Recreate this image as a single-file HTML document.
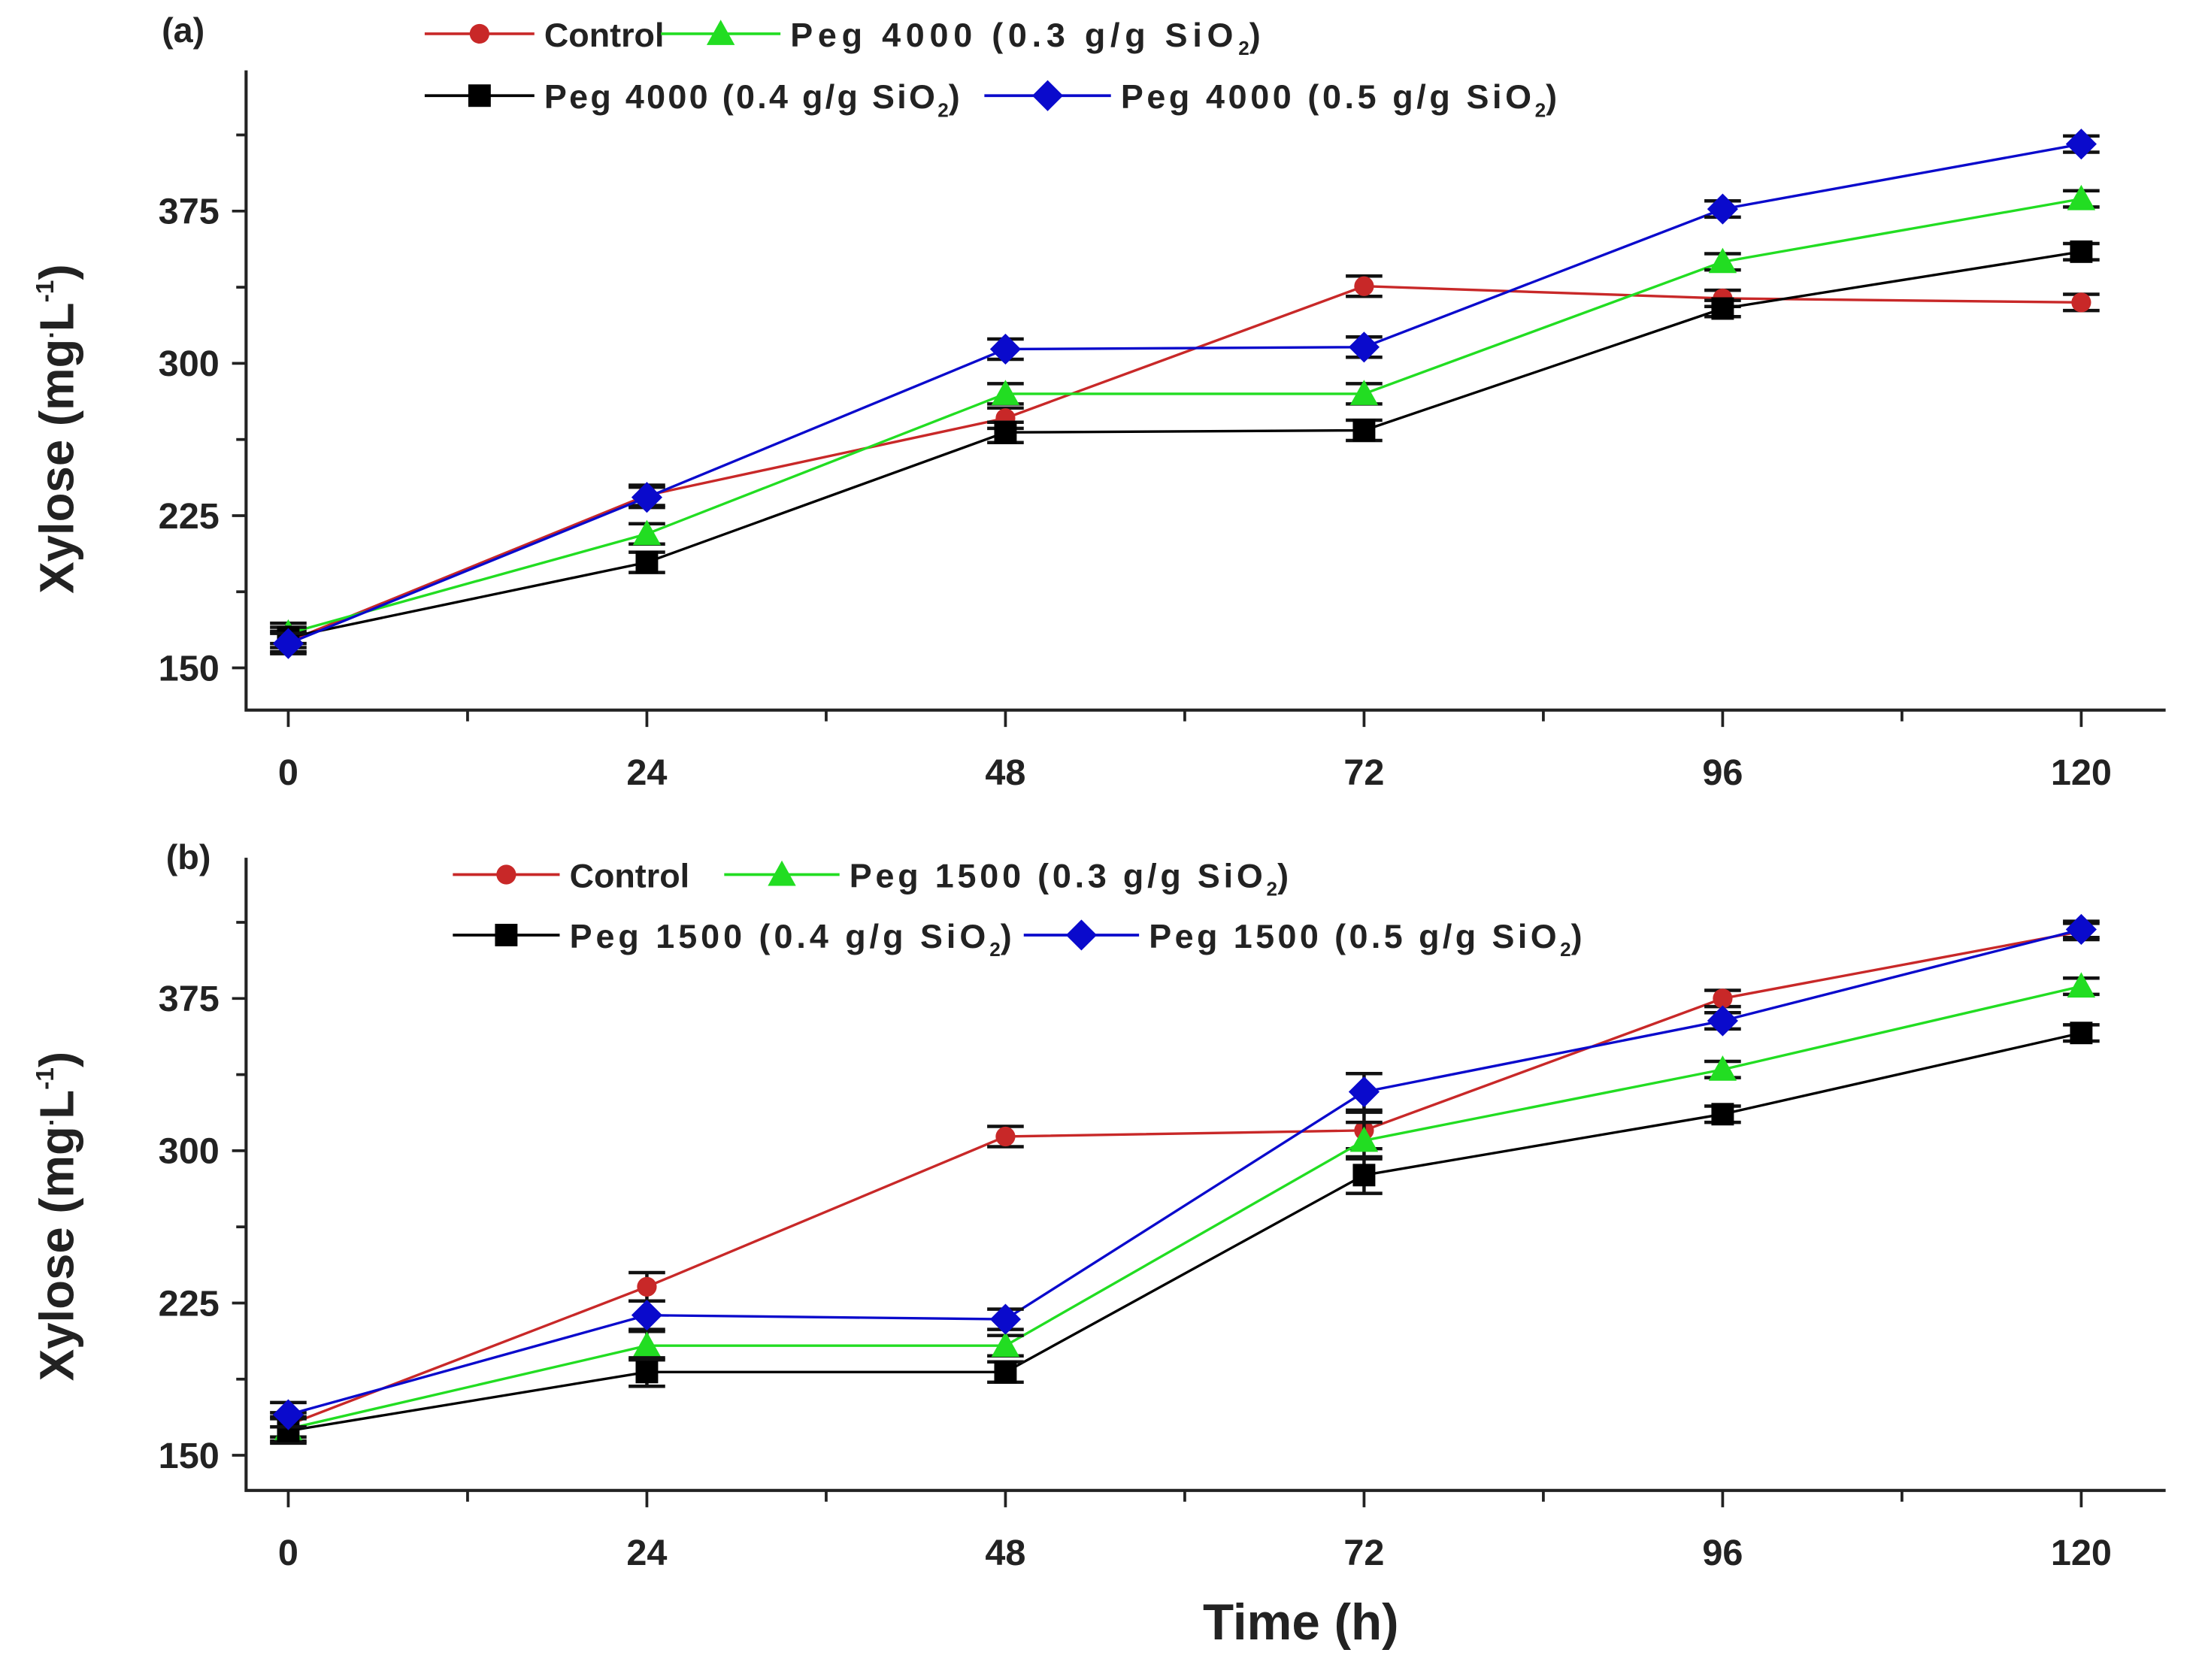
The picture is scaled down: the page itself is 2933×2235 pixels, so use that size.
<!DOCTYPE html>
<html><head><meta charset="utf-8">
<style>
html,body{margin:0;padding:0;background:#fff;}
svg{display:block;}
text{font-family:"Liberation Sans",sans-serif;font-weight:bold;fill:#222;}
</style></head>
<body>
<svg id="chart" width="2933" height="2235" viewBox="0 0 1568 1194.8" xmlns="http://www.w3.org/2000/svg">
</svg>
<script>
const hours = [0, 24, 48, 72, 96, 120];
const yTicks = [150, 225, 300, 375];
const xTickLabels = ["0", "24", "48", "72", "96", "120"];

const aControl = [163, 235, 273, 338, 332, 330];
const aPeg03 = [167, 216, 285, 285, 350, 381];
const aPeg04 = [165, 202, 266, 267, 327, 355];
const aPeg05 = [162, 234, 307, 308, 376, 408];
const aErr = [5, 5, 5, 5, 4, 4];

const bControl = [165, 233, 307, 310, 375, 408];
const bPeg03 = [163, 204, 204, 305, 340, 381];
const bPeg04 = [162, 191, 191, 288, 318, 358];
const bPeg05 = [170, 219, 217, 329, 364, 409];
const bErr = [6, 7, 5, 9, 4, 4];

const NS = "http://www.w3.org/2000/svg";
const svg = document.getElementById('chart');
function mk(tag, attrs, parent) {
  const e = document.createElementNS(NS, tag);
  for (const k in attrs) e.setAttribute(k, attrs[k]);
  (parent || svg).appendChild(e);
  return e;
}

const colors = { red: "#c82828", green: "#22dd22", black: "#000", blue: "#0a0acc" };

function drawMarker(g, kind, cx, cy, col) {
  let m;
  if (kind === 'circle') m = mk('circle', { cx: cx, cy: cy, r: 7, fill: col }, g);
  else if (kind === 'tri') m = mk('polygon', { points: `${cx},${cy-10} ${cx-10},${cy+8} ${cx+10},${cy+8}`, fill: col }, g);
  else if (kind === 'square') m = mk('rect', { x: cx-8, y: cy-8, width: 16, height: 16, fill: col }, g);
  else m = mk('polygon', { points: `${cx},${cy-11} ${cx+11},${cy} ${cx},${cy+11} ${cx-11},${cy}`, fill: col }, g);
  return m;
}

function panel(cfg) {
  const X = t => 205 + t * 10.625;
  const Y = v => cfg.y150 - (v - 150) * 1.444;
  const g = mk('g', {});
  
  
  const ax = mk('path', { d: `M175 ${cfg.top} V${cfg.bottom} H1540`, stroke: '#222', 'stroke-width': 2.2, fill: 'none' }, g);
  
  
  for (let v = 150; v <= 412.5; v += 37.5) {
    const major = yTicks.indexOf(v) >= 0;
    mk('line', { x1: major ? 165 : 168, x2: 175, y1: Y(v), y2: Y(v), stroke: '#222', 'stroke-width': 2 }, g);
  }
  yTicks.forEach(v => {
    const t = mk('text', { x: 156, y: Y(v) + 9, 'text-anchor': 'end', 'font-size': 26 }, g);
    t.textContent = v;
    
    
  });
  for (let h = 0; h <= 120; h += 12) {
    const major = h % 24 === 0;
    mk('line', { x1: X(h), x2: X(h), y1: cfg.bottom, y2: cfg.bottom + (major ? 12 : 8), stroke: '#222', 'stroke-width': 2 }, g);
  }
  hours.forEach((h, i) => {
    const t = mk('text', { x: X(h), y: cfg.bottom + 53, 'text-anchor': 'middle', 'font-size': 26 }, g);
    t.textContent = xTickLabels[i];
    
    
  });
  const yt = mk('text', { x: 0, y: 0, 'text-anchor': 'middle', 'font-size': 34, transform: `translate(52 ${cfg.y150 - 170}) rotate(-90)` }, g);
  yt.innerHTML = 'Xylose (mg<tspan font-size="18" dy="-14">.</tspan><tspan dy="14">L</tspan><tspan font-size="18" dy="-14">-1</tspan><tspan dy="14">)</tspan>';
  
  
  const pl = mk('text', { x: cfg.labX, y: cfg.labY, 'font-size': 25 }, g);
  pl.textContent = cfg.label;
  
  
  cfg.series.forEach(s => {
    const sg = mk('g', {}, g);
    
    
    const pts = s.vals.map((v, i) => `${X(hours[i])},${Y(v)}`).join(' ');
    mk('polyline', { points: pts, fill: 'none', stroke: s.col, 'stroke-width': 1.8 }, sg);
    s.vals.forEach((v, i) => {
      const cx = X(hours[i]), e = cfg.err[i];
      mk('path', { d: `M${cx} ${Y(v + e)} V${Y(v - e)} M${cx-13} ${Y(v + e)} H${cx+13} M${cx-13} ${Y(v - e)} H${cx+13}`, stroke: '#111', 'stroke-width': 2.4, fill: 'none' }, sg);
      const m = drawMarker(sg, s.kind, cx, Y(v), s.col);
      
      
    });
  });
  cfg.legend.forEach(l => {
    const lg = mk('g', {}, g);
    
    
    mk('line', { x1: l.x1, x2: l.x2, y1: l.y, y2: l.y, stroke: l.col, 'stroke-width': 2 }, lg);
    drawMarker(lg, l.kind, (l.x1 + l.x2) / 2, l.y, l.col);
    const t = mk('text', { x: l.x2 + 7, y: l.y + 9, 'font-size': 24 }, lg);
    if (l.plain) t.textContent = l.plain;
    else {
      t.innerHTML = `<tspan textLength="${l.len}" lengthAdjust="spacing">${l.text} g/g SiO</tspan><tspan font-size="14" dy="6">2</tspan><tspan dy="-6">)</tspan>`;
    }
  });
}

panel({
  id: 'panel-a', top: 50, bottom: 505, y150: 475, label: '(a)', labX: 115, labY: 30, err: aErr,
  series: [
    { name: 'series-control', vals: aControl, col: colors.red, kind: 'circle' },
    { name: 'series-peg4000-0.3', vals: aPeg03, col: colors.green, kind: 'tri' },
    { name: 'series-peg4000-0.4', vals: aPeg04, col: colors.black, kind: 'square' },
    { name: 'series-peg4000-0.5', vals: aPeg05, col: colors.blue, kind: 'diamond' }
  ],
  legend: [
    { x1: 302, x2: 380, y: 24, col: colors.red, kind: 'circle', plain: 'Control' },
    { x1: 470, x2: 555, y: 24, col: colors.green, kind: 'tri', text: 'Peg 4000 (0.3', len: 315 },
    { x1: 302, x2: 380, y: 68, col: colors.black, kind: 'square', text: 'Peg 4000 (0.4', len: 278 },
    { x1: 700, x2: 790, y: 68, col: colors.blue, kind: 'diamond', text: 'Peg 4000 (0.5', len: 292 }
  ]
});
panel({
  id: 'panel-b', top: 610, bottom: 1060, y150: 1035, label: '(b)', labX: 118, labY: 618, err: bErr,
  series: [
    { name: 'series-control', vals: bControl, col: colors.red, kind: 'circle' },
    { name: 'series-peg1500-0.3', vals: bPeg03, col: colors.green, kind: 'tri' },
    { name: 'series-peg1500-0.4', vals: bPeg04, col: colors.black, kind: 'square' },
    { name: 'series-peg1500-0.5', vals: bPeg05, col: colors.blue, kind: 'diamond' }
  ],
  legend: [
    { x1: 322, x2: 398, y: 622, col: colors.red, kind: 'circle', plain: 'Control' },
    { x1: 515, x2: 597, y: 622, col: colors.green, kind: 'tri', text: 'Peg 1500 (0.3', len: 294 },
    { x1: 322, x2: 398, y: 665, col: colors.black, kind: 'square', text: 'Peg 1500 (0.4', len: 296 },
    { x1: 728, x2: 810, y: 665, col: colors.blue, kind: 'diamond', text: 'Peg 1500 (0.5', len: 290 }
  ]
});
const xt = mk('text', { x: 925, y: 1166, 'text-anchor': 'middle', 'font-size': 36 });
xt.textContent = 'Time (h)';


</script>
</body></html>
